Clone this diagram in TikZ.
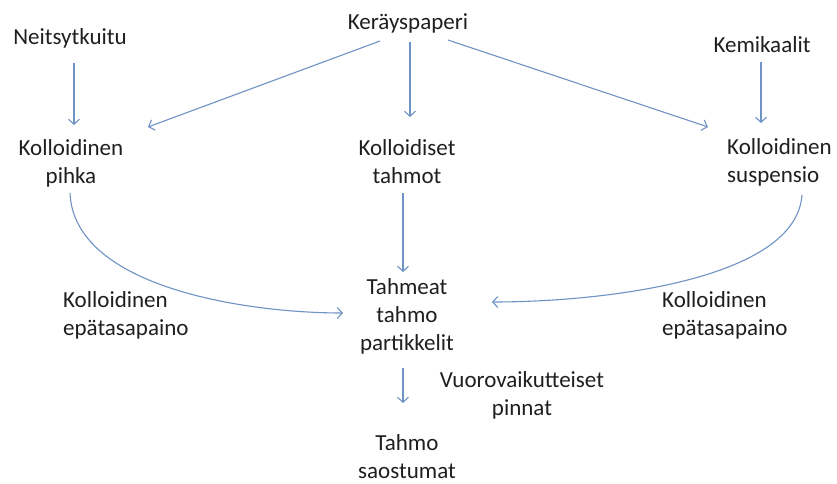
\documentclass[tikz,border=0pt]{standalone}
\usepackage{fontspec}
\setmainfont{Carlito}
\usetikzlibrary{arrows.meta,calc}
\definecolor{arrowblue}{HTML}{6F93C4}
\begin{document}
\begin{tikzpicture}[x=1pt,y=-1pt,
  lbl/.style={inner sep=0pt, anchor=base, font=\fontsize{23}{28}\selectfont, text=black!88},
  lblc/.style={lbl, align=center},
  lbll/.style={lbl, align=left, anchor=base west},
  arr/.style={draw=arrowblue, line width=1.1pt, -{Straight Barb[length=5pt,width=11pt]}}]
\useasboundingbox[fill=white] (0,0) rectangle (837,484);

% sources (base = baseline of the last line)
\node[lbl] (neit) at (70,45) {Neitsytkuitu};
\node[lbl] (ker) at (408,30) {Keräyspaperi};
\node[lbl] (kem) at (762,53) {Kemikaalit};

% colloidal stages
\node[lblc] (pihka) at (71,183) {Kolloidinen\\pihka};
\node[lblc] (tahmot) at (407,183) {Kolloidiset\\tahmot};
\node[lbll] (susp) at (727,182) {Kolloidinen\\suspensio};

% sticky particles and deposits
\node[lblc] (tahmeat) at (407,350) {Tahmeat\\tahmo\\partikkelit};
\node[lblc] (vuoro) at (522,415) {Vuorovaikutteiset\\pinnat};
\node[lblc] (saost) at (407,478) {Tahmo\\saostumat};

% curve labels
\node[lbll] (epL) at (63,335) {Kolloidinen\\epätasapaino};
\node[lbll] (epR) at (662,335) {Kolloidinen\\epätasapaino};

% connectors
\draw[arr] ($(neit.base)+(4,18)$) -- ($(pihka.base)+(3,-58)$);
\draw[arr] ($(ker.base)+(-28,11)$) -- ($(pihka.base)+(77,-56)$);
\draw[arr] ($(ker.base)+(2,12)$) -- ($(tahmot.base)+(3,-66)$);
\draw[arr] ($(ker.base)+(40,10)$) -- ($(susp.base west)+(-19,-55)$);
\draw[arr] ($(kem.base)+(-1,9)$) -- ($(susp.base west)+(34,-59)$);
\draw[arr] ($(tahmot.base)+(-4,10)$) -- ($(tahmeat.base)+(-4,-78)$);
\draw[arr] ($(pihka.base)+(-1,10)$) .. controls +(4,95) and +(-95,0) .. ($(tahmeat.base)+(-64,-37)$);
\draw[arr] ($(susp.base west)+(75,13)$) .. controls +(-6,85) and +(110,0) .. ($(tahmeat.base)+(85,-48)$);
\draw[arr] ($(tahmeat.base)+(-4,18)$) -- ($(saost.base)+(-4,-75)$);
\end{tikzpicture}
\end{document}
